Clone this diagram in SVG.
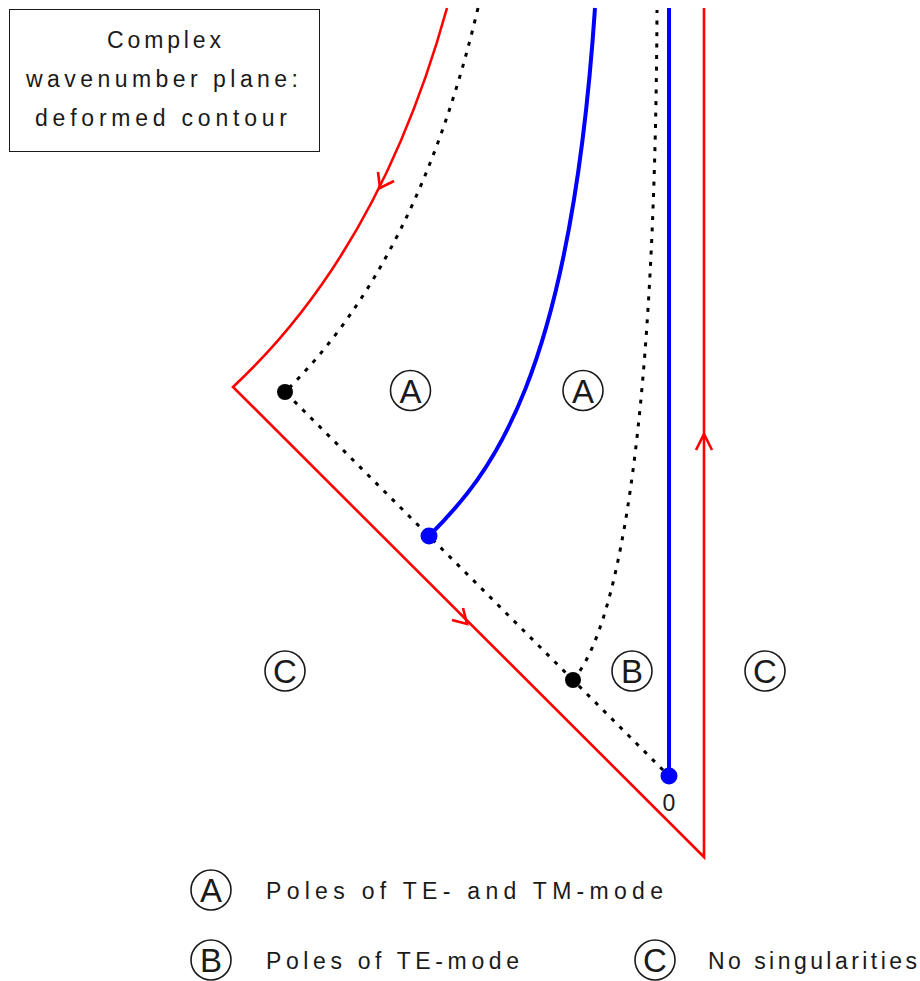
<svg xmlns="http://www.w3.org/2000/svg" width="920" height="981" viewBox="0 0 920 981">
<style>
text{font-family:"Liberation Sans",Arial,sans-serif;fill:#1a1a1a}
.lbl{font-size:23px}
.cl{font-size:33px;text-anchor:middle}
.ring{fill:none;stroke:#1a1a1a;stroke-width:1.6}
.red{fill:none;stroke:#ff0000;stroke-width:2.6;stroke-linejoin:miter}
.blue{fill:none;stroke:#0000ff;stroke-width:4}
.dot{fill:none;stroke:#000;stroke-width:3;stroke-dasharray:4 7.5}
</style>
<rect width="920" height="981" fill="#fff"/>
<g id="title">
<rect x="9.5" y="9.5" width="310" height="142" fill="none" stroke="#1a1a1a" stroke-width="1"/>
<text class="lbl" x="164" y="48" text-anchor="middle" textLength="114" lengthAdjust="spacing">Complex</text>
<text class="lbl" x="162" y="87" text-anchor="middle" textLength="272" lengthAdjust="spacing">wavenumber plane:</text>
<text class="lbl" x="161" y="126" text-anchor="middle" textLength="252" lengthAdjust="spacing">deformed contour</text>
</g>
<g id="connectors">
<path id="branch-cuts" class="dot" d="M478,8 Q418,262 285,392 L669,776 M573,680 C615,632 655,450 657,10"/>
<path id="blue-curve" class="blue" d="M429,536 C490,475 570,380 595,8"/>
<path id="blue-line" class="blue" d="M669,776 L669,8"/>
<path id="contour" class="red" d="M447,8 Q380,250 233,387 L704,857 L704,8"/>
<polyline class="red" points="378,172 380,188 394,181"/>
<polyline class="red" points="452,620 467,624 463,608"/>
<polyline class="red" points="696,450 704,434 712,450"/>
</g>
<g id="poles">
<circle cx="285" cy="392" r="8" fill="#000"/>
<circle cx="573" cy="680" r="8" fill="#000"/>
<circle cx="429" cy="536" r="8.5" fill="#0000ff"/>
<circle cx="669" cy="776" r="8.5" fill="#0000ff"/>
<text class="lbl" x="669" y="811" text-anchor="middle">0</text>
</g>
<g id="region-A1"><circle class="ring" cx="410.5" cy="390.5" r="20"/><text class="cl" x="410.5" y="402.5">A</text></g>
<g id="region-A2"><circle class="ring" cx="583" cy="390.5" r="20"/><text class="cl" x="583" y="402.5">A</text></g>
<g id="region-C1"><circle class="ring" cx="285" cy="671" r="20"/><text class="cl" x="285" y="683">C</text></g>
<g id="region-B"><circle class="ring" cx="632" cy="671" r="20"/><text class="cl" x="632" y="683">B</text></g>
<g id="region-C2"><circle class="ring" cx="765" cy="671" r="20"/><text class="cl" x="765" y="683">C</text></g>
<g id="legend-A"><circle class="ring" cx="211" cy="890" r="20"/><text class="cl" x="211" y="902">A</text>
<text class="lbl" x="266" y="899" textLength="397" lengthAdjust="spacing">Poles of TE- and TM-mode</text></g>
<g id="legend-B"><circle class="ring" cx="211" cy="960" r="20"/><text class="cl" x="211" y="972">B</text>
<text class="lbl" x="266" y="969" textLength="253" lengthAdjust="spacing">Poles of TE-mode</text></g>
<g id="legend-C"><circle class="ring" cx="655" cy="960" r="20"/><text class="cl" x="655" y="972">C</text>
<text class="lbl" x="708" y="969" textLength="209" lengthAdjust="spacing">No singularities</text></g>
</svg>
